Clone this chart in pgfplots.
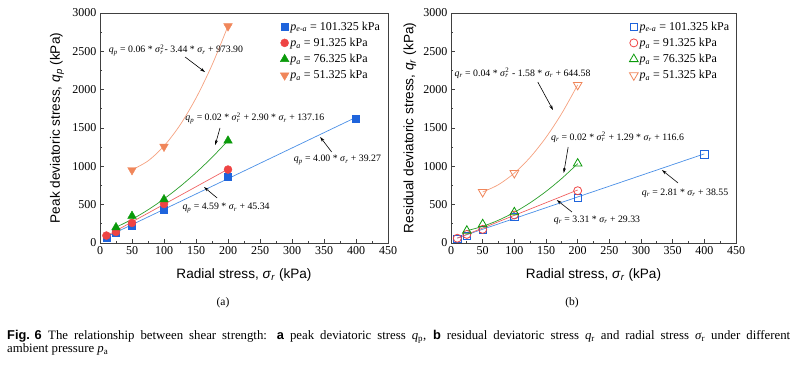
\documentclass[border=0pt]{standalone}
\usepackage{fontspec}
\setmainfont{Liberation Serif}
\setsansfont{Liberation Sans}
\usepackage{pgfplots}
\pgfplotsset{compat=1.18}
\usetikzlibrary{arrows.meta}
\definecolor{cb}{HTML}{1F64DC}
\definecolor{cbl}{HTML}{4A8FE6}
\definecolor{cr}{HTML}{EE4444}
\definecolor{crl}{HTML}{F06464}
\definecolor{cg}{HTML}{0A9A0A}
\definecolor{cgl}{HTML}{2A9E2A}
\definecolor{co}{HTML}{F0865A}
\definecolor{col}{HTML}{F5A07E}
\newcommand{\sr}{\textit{σ}\textsubscript{\textit{r}}}
\newcommand{\srr}{\textit{σ}\rlap{\textsuperscript{2}}\textsubscript{\textit{r}}\hspace{0.12em}}
\newcommand{\qp}{\textit{q}\textsubscript{\textit{p}}}
\newcommand{\qr}{\textit{q}\textsubscript{\textit{r}}}
\pgfplotsset{mystyle/.style={
  scale only axis, height=230pt,
  xmin=0, xmax=450, ymin=0, ymax=3000,
  xtick={0,50,...,450}, ytick={0,500,...,3000},
  minor x tick num=1, minor y tick num=1,
  tick align=inside, xtick pos=bottom, ytick pos=left,
  axis line style={line width=0.8pt, black!75},
  major tick length=3.5pt, minor tick length=2pt,
  every tick/.style={black!75, line width=0.7pt},
  ticklabel style={font=\fontsize{12}{13}\selectfont},
  /pgf/number format/assume math mode=true,
  /pgf/number format/1000 sep={},
  scaled ticks=false,
  label style={font=\sffamily\fontsize{13.6}{15}\selectfont},
  xlabel style={at={(axis description cs:0.5,-0.139)}, anchor=center},
  clip=false,
  legend cell align=left,
  legend style={draw=none, fill=none, font=\fontsize{12}{13}\selectfont,
    row sep=3.4pt, anchor=north west, nodes={inner sep=1.5pt}},
  legend image code/.code={\draw[#1] plot coordinates {(-2pt,0pt)};},
}}
\begin{document}
\begin{tikzpicture}
\useasboundingbox (0,0) rectangle (800pt,366pt);
% ---------- (a) ----------
\begin{axis}[mystyle, at={(100pt,123pt)}, anchor=south west, width=288pt,
  xlabel={Radial stress, \textit{σ}\textsubscript{\textit{r}} (kPa)},
  ylabel={Peak deviatoric stress, \textit{q}\textsubscript{\textit{p}} (kPa)},
  ylabel style={at={(axis description cs:-0.149,0.5)}, anchor=center},
  legend style={at={(axis description cs:0.615,0.978)}}]
\addplot[cbl, line width=0.7pt, forget plot] coordinates {(10,79.27) (400,1639.27)};
\addplot[crl, line width=0.7pt, forget plot] coordinates {(10,91.2) (200,963.3)};
\addplot[cgl, line width=0.7pt, smooth, forget plot] coordinates {(25,205) (50,309) (75,432.6) (100,575) (125,736.4) (150,916.9) (175,1116.4) (200,1335)};
\addplot[col, line width=0.7pt, smooth, forget plot] coordinates {(50,955) (75,1070.6) (100,1265) (125,1538) (150,1890) (175,2320.6) (200,2830)};
\addplot[only marks, mark=square*, mark size=3.6pt, color=cb] coordinates {(10,72) (25,135) (50,222) (100,430) (200,863) (400,1626)};
\addlegendentry{\textit{p}\textsubscript{\textit{e-a}} = 101.325 kPa}
\addplot[only marks, mark=*, mark size=4pt, color=cr] coordinates {(10,97) (25,145) (50,262) (100,508) (200,958)};
\addlegendentry{\textit{p}\textsubscript{\textit{a}} = 91.325 kPa}
\addplot[only marks, mark=triangle*, mark size=5pt, color=cg] coordinates {(25,203) (50,352) (100,568) (200,1334)};
\addlegendentry{\textit{p}\textsubscript{\textit{a}} = 76.325 kPa}
\addplot[only marks, mark=triangle*, mark size=5pt, mark options={rotate=180}, color=co] coordinates {(50,952) (100,1258) (200,2828)};
\addlegendentry{\textit{p}\textsubscript{\textit{a}} = 51.325 kPa}
\begin{scope}[font=\fontsize{9.8}{11}\selectfont]
\node at (axis cs:118.75,2517) {\qp\ = 0.06 * \srr- 3.44 * \sr\ + 973.90};
\node at (axis cs:242,1630) {\qp\ = 0.02 * \srr\ + 2.90 * \sr\ + 137.16};
\node at (axis cs:371,1082) {\qp\ = 4.00 * \sr\ + 39.27};
\node at (axis cs:197,456) {\qp\ = 4.59 * \sr\ + 45.34};
\end{scope}
\begin{scope}[-{Stealth[length=5pt,width=3pt]}, line width=0.6pt]
\draw (axis cs:133,2426) -- (axis cs:164,2230);
\draw (axis cs:187.5,1500) -- (axis cs:180,1278);
\draw (axis cs:362,1187) -- (axis cs:344,1383);
\draw (axis cs:183,587) -- (axis cs:162.5,730);
\end{scope}
\end{axis}
% ---------- (b) ----------
\begin{axis}[mystyle, at={(451pt,123pt)}, anchor=south west, width=285pt,
  xlabel={Radial stress, \textit{σ}\textsubscript{\textit{r}} (kPa)},
  ylabel={Residual deviatoric stress, \textit{q}\textsubscript{\textit{r}} (kPa)},
  ylabel style={at={(axis description cs:-0.144,0.5)}, anchor=center},
  legend style={at={(axis description cs:0.615,0.978)}}]
\addplot[cbl, line width=0.7pt, forget plot] coordinates {(10,66.7) (400,1162.6)};
\addplot[crl, line width=0.7pt, forget plot] coordinates {(10,62.4) (200,691.3)};
\addplot[cgl, line width=0.7pt, smooth, forget plot] coordinates {(25,160) (50,217.5) (75,297.5) (100,400) (125,525) (150,672.5) (175,842.5) (200,1035)};
\addplot[col, line width=0.7pt, smooth, forget plot] coordinates {(50,665) (75,761.2) (100,912) (125,1117.5) (150,1377.6) (175,1692.4) (200,2062)};
\addplot[only marks, mark=square, mark size=3.6pt, color=cb, line width=0.8pt] coordinates {(10,57) (25,96) (50,172) (100,336) (200,593) (400,1155)};
\addlegendentry{\textit{p}\textsubscript{\textit{e-a}} = 101.325 kPa}
\addplot[only marks, mark=o, mark size=4pt, color=cr, line width=0.8pt] coordinates {(10,62) (25,112) (50,178) (100,365) (200,682)};
\addlegendentry{\textit{p}\textsubscript{\textit{a}} = 91.325 kPa}
\addplot[only marks, mark=triangle, mark size=5pt, color=cg, line width=0.8pt] coordinates {(25,160) (50,244) (100,400) (200,1036)};
\addlegendentry{\textit{p}\textsubscript{\textit{a}} = 76.325 kPa}
\addplot[only marks, mark=triangle, mark size=5pt, mark options={rotate=180}, color=co, line width=0.8pt] coordinates {(50,665) (100,912) (200,2062)};
\addlegendentry{\textit{p}\textsubscript{\textit{a}} = 51.325 kPa}
\begin{scope}[font=\fontsize{9.8}{11}\selectfont]
\node at (axis cs:113,2217) {\qr\ = 0.04 * \srr\ - 1.58 * \sr\ + 644.58};
\node at (axis cs:263,1383) {\qr\ = 0.02 * \srr\ + 1.29 * \sr\ + 116.6};
\node at (axis cs:369.5,652) {\qr\ = 2.81 * \sr\ + 38.55};
\node at (axis cs:230.5,300) {\qr\ = 3.31 * \sr\ + 29.33};
\end{scope}
\begin{scope}[-{Stealth[length=5pt,width=3pt]}, line width=0.6pt]
\draw (axis cs:137,2100) -- (axis cs:161,1735);
\draw (axis cs:185,1252) -- (axis cs:178,913);
\draw (axis cs:358.5,783) -- (axis cs:333,952);
\draw (axis cs:191,404) -- (axis cs:167,561);
\end{scope}
\end{axis}
% ---------- captions ----------
\node[font=\fontsize{11.5}{12}\selectfont] at (223pt,63pt) {(a)};
\node[font=\fontsize{11.5}{12}\selectfont] at (572pt,63pt) {(b)};
\node[anchor=base west, inner sep=0pt, font=\fontsize{12.8}{14}\selectfont] at (7pt,26.5pt)
  {\makebox[783pt][s]{\mbox{\textsf{\textbf{Fig. 6}}}\hspace{0.5em}The relationship between shear strength: \textsf{\textbf{a}} peak deviatoric stress \textit{q}\textsubscript{p}, \textsf{\textbf{b}} residual deviatoric stress \textit{q}\textsubscript{r} and radial stress \textit{σ}\textsubscript{r} under different}};
\node[anchor=base west, inner sep=0pt, font=\fontsize{12.8}{14}\selectfont] at (7pt,13.5pt)
  {ambient pressure \textit{p}\textsubscript{a}};
\end{tikzpicture}
\end{document}
